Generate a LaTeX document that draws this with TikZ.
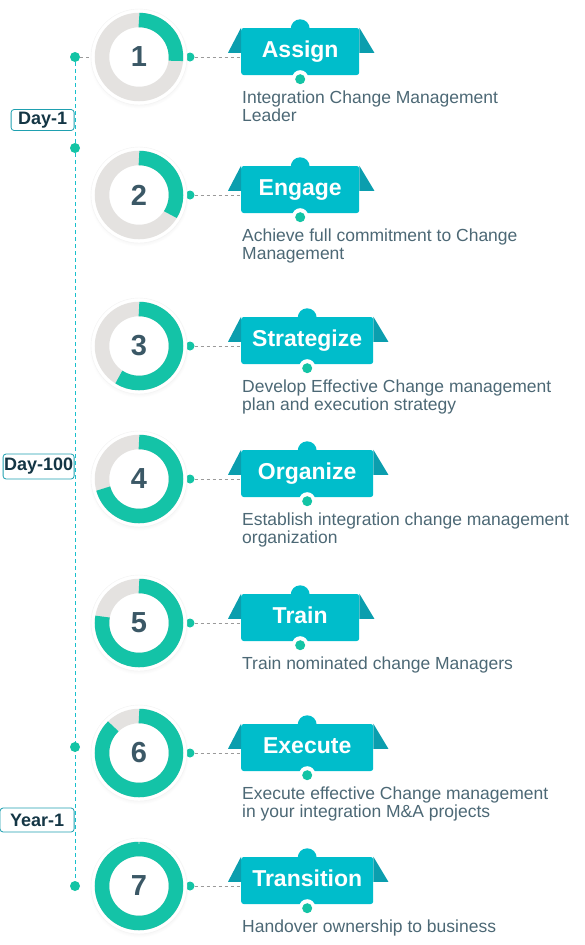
\documentclass[tikz,border=0pt]{standalone}
\usepackage{fontspec}
\setmainfont{Liberation Sans}
\usetikzlibrary{calc,shadows,backgrounds}
\definecolor{ringgreen}{HTML}{14C3A7}
\definecolor{ringgray}{HTML}{E4E2E0}
\definecolor{bannercyan}{HTML}{00BDCB}
\definecolor{wingdark}{HTML}{0B9EAE}
\definecolor{linecyan}{HTML}{19C0CC}
\definecolor{dotgreen}{HTML}{13C4A5}
\definecolor{dashgray}{HTML}{9A9A9A}
\definecolor{lblborder}{HTML}{1FA0B0}
\definecolor{lbltext}{HTML}{143645}
\definecolor{numtext}{HTML}{3B5866}
\definecolor{desctext}{HTML}{4C6875}
\tikzset{
  halo/.style={circle, minimum size=96pt, inner sep=0pt, fill=white, draw=black!5,
    circular drop shadow={shadow xshift=0pt, shadow yshift=-1.5pt, opacity=0.12, shadow scale=1.04},
    font=\fontsize{29}{29}\selectfont\bfseries, text=numtext},
  ring/.style={line width=14.5pt},
  banner/.style={rectangle, rounded corners=2.5pt, fill=bannercyan, minimum height=47pt, inner sep=0pt,
    text=white, font=\fontsize{23}{23}\selectfont\bfseries, text height=16pt, text depth=5pt},
  wing/.style={fill=wingdark},
  desc/.style={anchor=north west, align=left, inner sep=0pt, text=desctext, font=\fontsize{17.5}{18}\selectfont},
  dot/.style={circle, fill=dotgreen, minimum size=10pt, inner sep=0pt},
  link/.style={dashgray, dash pattern=on 3pt off 3pt, line width=0.8pt},
  timeline/.style={linecyan, dash pattern=on 4pt off 3pt, line width=1pt},
  daylbl/.style={draw=lblborder, rounded corners=3pt, fill=white, line width=0.8pt, inner sep=0pt,
    font=\fontsize{18}{18}\selectfont\bfseries, text=lbltext}}

\begin{document}
\begin{tikzpicture}[x=1pt, y=1pt]
  \useasboundingbox (0,0) rectangle (584,-945);
  % timeline on the left
  \foreach \j/\ty in {1/57, 2/148, 3/747, 4/886} {\node[dot] (t\j) at (75,-\ty) {};}
  \begin{scope}[on background layer]
    \draw[timeline] (t1) -- (t4);
  \end{scope}
  \node[daylbl, minimum width=63pt, minimum height=21pt, anchor=east] (dy1) at (74.5,-120) {Day-1};
  \node[daylbl, minimum width=71pt, minimum height=25pt, anchor=east] (dy100) at (74.5,-466.5) {Day-100};
  \node[daylbl, minimum width=74pt, minimum height=24pt, anchor=east] (yr1) at (74.5,-820) {Year-1};
  % steps
  \foreach \i/\y/\ang/\w/\ttl/\dsc in {
    1/57/96/118/Assign/{Integration Change Management\\Leader},
    2/195/122/118/Engage/{Achieve full commitment to Change\\Management},
    3/346/213/132/Strategize/{Develop Effective Change management\\plan and execution strategy},
    4/479/255/132/Organize/{Establish integration change management\\organization},
    5/623/280/118/Train/{Train nominated change Managers},
    6/753/316/132/Execute/{Execute effective Change management\\in your integration M\&A projects},
    7/886/360/132/Transition/{Handover ownership to business}} {
    \node[dot, minimum size=9pt] (r\i) at (190,-\y) {};
    \node[halo] (c\i) at (139,-\y) {\i};
    \draw[ring, ringgray] (c\i) circle (37pt);
    \draw[ring, ringgreen] ($(c\i)+(0,37)$) arc[start angle=90, delta angle=-\ang, radius=37pt];
    \node[banner, minimum width=\w pt, anchor=west] (b\i) at ($(c\i)+(102,5.5)$) {\ttl};
    \fill[wing] (b\i.north west) -- ++(-13,-25) -- ++(13,0) -- cycle;
    \fill[wing] (b\i.north east) -- ++(15,-25) -- ++(-15,0) -- cycle;
    \fill[bannercyan] ($(b\i.north)+(0,-1)$) circle (9.5pt);
    \fill[white] ($(b\i.south)+(0,-3)$) circle (8pt);
    \node[dot] (m\i) at ($(b\i.south)+(0,-4)$) {};
    \draw[link] (r\i) -- (r\i -| b\i.west);
    \node[desc] (d\i) at ($(b\i.south west)+(1,-15.7)$) {\dsc};
  }
  \draw[link] (t1) -- (c1);
\end{tikzpicture}
\end{document}
